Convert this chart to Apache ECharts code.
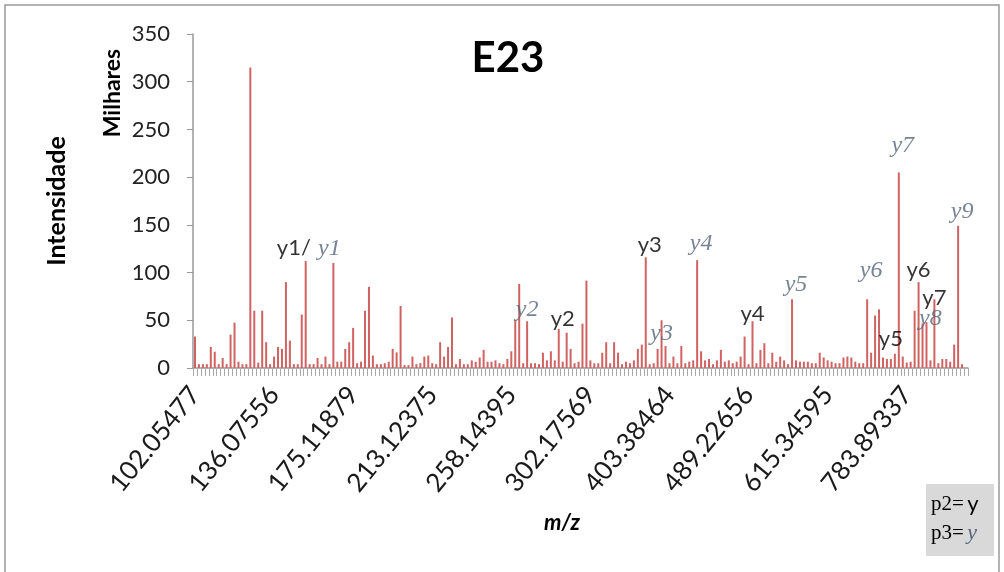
<!DOCTYPE html>
<html>
<head>
<meta charset="utf-8">
<script src="https://cdn.jsdelivr.net/npm/echarts@6/dist/echarts.min.js"></script>
<style>
  html, body { margin: 0; padding: 0; background: #fff; }
  #chart { width: 1004px; height: 572px; }
</style>
</head>
<body>
<div id="chart"></div>
<script>
// tick labels shown on the m/z axis (one every 20 peaks)
const tickLabels = ['102.05477', '136.07556', '175.11879', '213.12375', '258.14395',
    '302.17569', '403.38464', '489.22656', '615.34595', '783.89337'];
const tickStep = 20;

// intensity (thousands) of each peak, left to right
const intensity = [
    33, 4, 4, 4, 22, 17, 4, 10.5, 4, 35,
    47.5, 6.6, 4, 4, 315, 60, 5.6, 60, 27, 4,
    12, 22, 20, 90, 28.7, 4, 4, 56, 112, 4,
    4, 10.5, 4, 12, 4, 110, 6.6, 6.6, 20, 27,
    42, 5, 6.6, 60, 85, 13, 4, 4, 5, 6.6,
    20, 16.4, 65, 3, 3, 12, 4, 5, 12, 13,
    5, 4, 27, 12, 22, 53, 4, 9.4, 4, 4,
    8, 6.6, 11, 19, 6.6, 6.6, 8, 5, 4, 9.4,
    17.5, 50, 88, 5, 49, 5, 5, 4, 16, 8,
    17.5, 8, 41, 6.6, 37, 20, 5, 6.6, 46.5, 91.6,
    8, 5, 5, 16, 27, 5, 27, 16, 4, 6.6,
    5, 8, 20, 24.5, 116, 4, 5, 20, 50, 23,
    5, 12, 5, 23, 5, 6.6, 8, 113, 17.5, 8,
    9.4, 4, 8, 19, 6.6, 8, 5, 6.6, 12, 33,
    4, 49, 5, 19, 26, 5, 16, 6.6, 12, 8,
    4, 72, 8, 6.6, 6.6, 6.6, 5, 5, 16, 11,
    8, 6.6, 5, 5, 11, 12, 11, 6.6, 5, 5,
    72, 16, 55, 61.5, 11, 9.4, 9.4, 15, 205, 12,
    5.6, 6.6, 60, 90, 46.5, 48, 8, 72, 5, 9.4,
    9.4, 6.6, 24.5, 149, 4, 0
];

// fragment annotations (p2 = plain y, p3 = handwritten y)
const p2Labels = ['y1/', 'y2', 'y3', 'y4', 'y5', 'y6', 'y7'];
const p2Peak = [25, 93, 115, 141, 176, 183, 187];
const p2Level = [126, 51, 129, 57, 31, 103, 73];

const p3Labels = ['y1', 'y2', 'y3', 'y4', 'y5', 'y6', 'y7', 'y8', 'y9'];
const p3Peak = [34, 84, 118, 128, 152, 171, 179, 186, 194];
const p3Level = [125, 61, 36, 130, 87, 102, 233, 52, 164];

const categories = intensity.map((v, i) =>
    i % tickStep === 0 && tickLabels[i / tickStep] ? tickLabels[i / tickStep] : String(i));

const font = 'Lato, "Open Sans", sans-serif';
const handFont = '"Liberation Serif", "DejaVu Serif", serif';
const handColor = '#55657a';

const chart = echarts.init(document.getElementById('chart'));

chart.setOption({
    animation: false,
    backgroundColor: '#fff',
    grid: {
        left: 193,
        right: 36,
        top: 34,
        bottom: 204,
        containLabel: false
    },
    xAxis: {
        type: 'category',
        data: categories,
        boundaryGap: true,
        axisLine: { lineStyle: { color: '#999', width: 1.5 } },
        axisTick: {
            show: true,
            interval: 0,
            length: 8,
            lineStyle: { color: '#aaa' }
        },
        axisLabel: {
            interval: tickStep - 1,
            rotate: 51,
            margin: 22,
            fontSize: 26,
            fontFamily: font,
            color: '#1a1a1a'
        },
        splitLine: { show: false }
    },
    yAxis: {
        type: 'value',
        min: 0,
        max: 350,
        interval: 50,
        axisLine: { show: true, lineStyle: { color: '#999', width: 1.5 } },
        axisTick: { show: true, length: 6, lineStyle: { color: '#999' } },
        axisLabel: {
            margin: 23,
            fontSize: 22,
            fontFamily: font,
            color: '#222'
        },
        splitLine: { show: false }
    },
    series: [
        {
            type: 'bar',
            data: intensity,
            barWidth: 2,
            itemStyle: { color: '#d06262' },
            silent: true
        },
        {
            type: 'scatter',
            data: p2Labels.map((t, i) => [p2Peak[i], p2Level[i], t]),
            symbolSize: 1,
            itemStyle: { color: 'rgba(0,0,0,0)' },
            silent: true,
            z: 5,
            label: {
                show: true,
                position: 'inside',
                formatter: p => p.value[2],
                fontSize: 22,
                fontFamily: font,
                color: '#000'
            }
        },
        {
            type: 'scatter',
            data: p3Labels.map((t, i) => [p3Peak[i], p3Level[i], t]),
            symbolSize: 1,
            itemStyle: { color: 'rgba(0,0,0,0)' },
            silent: true,
            z: 5,
            label: {
                show: true,
                position: 'inside',
                formatter: p => p.value[2],
                fontSize: 24,
                fontStyle: 'italic',
                fontFamily: handFont,
                color: handColor
            }
        }
    ],
    graphic: [
        {
            type: 'rect',
            shape: { x: 5, y: 5, width: 994, height: 590 },
            style: { fill: 'none', stroke: '#9a9a9a', lineWidth: 1.5 },
            silent: true
        },
        {
            type: 'text',
            x: 508, y: 58,
            style: {
                text: 'E23', fontSize: 42, fontWeight: 'bold', fontFamily: font,
                fill: '#000', align: 'center', verticalAlign: 'middle'
            }
        },
        {
            type: 'text',
            x: 113, y: 93,
            rotation: Math.PI / 2,
            style: {
                text: 'Milhares', fontSize: 23, fontWeight: 'bold', fontFamily: font,
                fill: '#000', align: 'center', verticalAlign: 'middle'
            }
        },
        {
            type: 'text',
            x: 57, y: 201,
            rotation: Math.PI / 2,
            style: {
                text: 'Intensidade', fontSize: 25, fontWeight: 'bold', fontFamily: font,
                fill: '#000', align: 'center', verticalAlign: 'middle'
            }
        },
        {
            type: 'text',
            x: 562, y: 523,
            style: {
                text: 'm/z', fontSize: 22, fontWeight: 'bold', fontStyle: 'italic', fontFamily: font,
                fill: '#000', align: 'center', verticalAlign: 'middle'
            }
        },
        {
            type: 'rect',
            shape: { x: 926, y: 484, width: 68, height: 72 },
            style: { fill: '#d9d9d9' },
            silent: true
        },
        {
            type: 'text',
            x: 931, y: 504,
            style: {
                rich: {
                    s: { fontFamily: handFont, fontSize: 21, fill: '#000' },
                    c: { fontFamily: font, fontSize: 22, fill: '#000' }
                },
                text: '{s|p2=} {c|y}',
                verticalAlign: 'middle'
            }
        },
        {
            type: 'text',
            x: 931, y: 533,
            style: {
                rich: {
                    s: { fontFamily: handFont, fontSize: 21, fill: '#000' },
                    h: { fontFamily: handFont, fontSize: 22, fontStyle: 'italic', fill: handColor }
                },
                text: '{s|p3=} {h|y}',
                verticalAlign: 'middle'
            }
        }
    ]
});
</script>
</body>
</html>
